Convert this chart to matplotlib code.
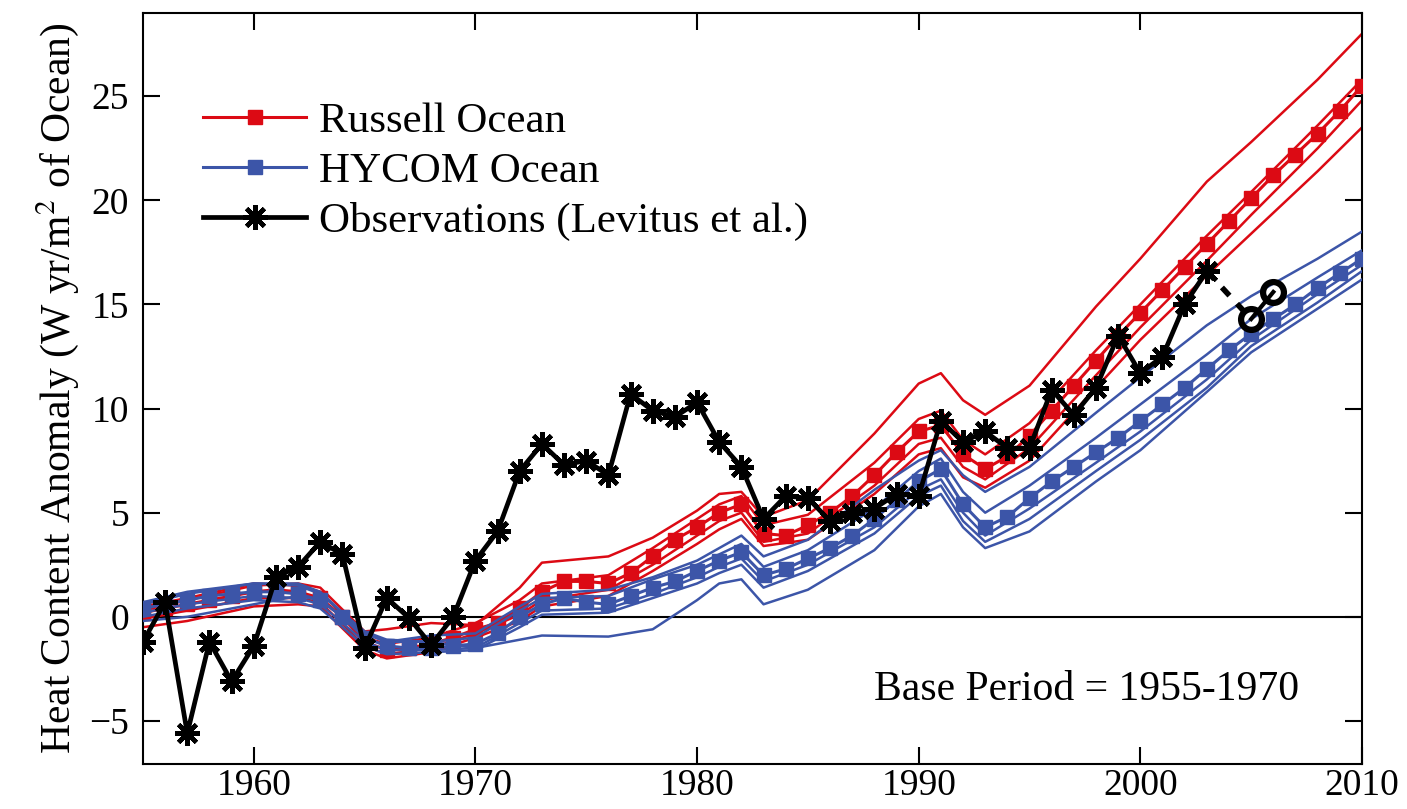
import numpy as np
import matplotlib
matplotlib.use("Agg")
import matplotlib.pyplot as plt

plt.rcParams['font.family'] = ['Liberation Serif', 'DejaVu Serif']
plt.rcParams['mathtext.fontset'] = 'stix'

# annual ensemble means, 1955-2010
years = np.arange(1955, 2011)
russell_mean = [0.2, 0.4, 0.6, 0.8, 1.0, 1.2, 1.3, 1.2, 0.9, 0.0,
                -1.2, -1.6, -1.5, -1.3, -1.0, -0.6, -0.3, 0.4, 1.2, 1.7,
                1.7, 1.6, 2.1, 2.9, 3.7, 4.3, 5.0, 5.4, 4.0, 3.9,
                4.4, 5.0, 5.8, 6.8, 7.9, 8.9, 9.2, 7.8, 7.1, 7.7,
                8.7, 9.9, 11.1, 12.3, 13.5, 14.6, 15.7, 16.8, 17.9, 19.0,
                20.1, 21.2, 22.2, 23.2, 24.3, 25.5]
hycom_mean = [0.4, 0.6, 0.8, 1.0, 1.1, 1.2, 1.2, 1.1, 0.8, 0.0,
              -1.0, -1.4, -1.5, -1.5, -1.4, -1.3, -0.8, 0.0, 0.6, 0.9,
              0.7, 0.6, 1.0, 1.4, 1.7, 2.2, 2.7, 3.1, 2.0, 2.3,
              2.8, 3.3, 3.9, 4.7, 5.6, 6.5, 7.1, 5.4, 4.3, 4.8,
              5.7, 6.5, 7.2, 7.9, 8.6, 9.4, 10.2, 11.0, 11.9, 12.8,
              13.6, 14.3, 15.0, 15.8, 16.5, 17.2]

# individual ensemble members
member_years = [1955, 1957, 1960, 1962, 1963, 1965, 1966, 1968, 1970, 1972,
                1973, 1976, 1978, 1980, 1981, 1982, 1983, 1985, 1988, 1990,
                1991, 1992, 1993, 1995, 1998, 2000, 2003, 2005, 2008, 2010]
russell_members = [
    [0.3, 0.8, 1.5, 1.6, 1.4, -0.7, -0.6, -0.3, -0.4, 1.4, 2.6, 2.9, 3.8, 5.1, 5.9,
     6.0, 4.8, 5.6, 8.8, 11.2, 11.7, 10.4, 9.7, 11.1, 14.9, 17.2, 20.9, 22.8, 25.8, 28.0],
    [0.5, 0.9, 1.6, 1.5, 1.2, -1.0, -1.3, -1.0, -0.3, 0.8, 1.6, 2.0, 3.3, 4.7, 5.4,
     5.8, 4.4, 4.9, 7.4, 9.5, 9.9, 8.5, 7.8, 9.3, 12.8, 15.0, 18.3, 20.4, 23.6, 25.8],
    [-0.1, 0.3, 0.9, 0.9, 0.7, -1.4, -1.8, -1.5, -0.8, 0.1, 0.8, 1.3, 2.5, 3.9, 4.6,
     5.0, 3.6, 4.0, 6.3, 8.3, 8.6, 7.2, 6.6, 8.1, 11.6, 13.9, 17.1, 19.3, 22.5, 24.8],
    [-0.5, -0.2, 0.5, 0.6, 0.5, -1.6, -2.0, -1.7, -1.0, -0.2, 0.5, 1.0, 2.2, 3.5, 4.2,
     4.7, 3.4, 3.7, 5.9, 7.8, 8.1, 6.7, 6.2, 7.5, 11.0, 13.3, 16.4, 18.4, 21.4, 23.5],
]
hycom_members = [
    [0.6, 1.1, 1.6, 1.6, 1.2, -0.8, -1.2, -0.9, -0.8, 0.5, 1.1, 1.3, 1.9, 2.7, 3.3,
     3.9, 2.9, 3.7, 6.1, 7.5, 8.0, 6.8, 6.0, 7.2, 9.8, 11.5, 14.0, 15.4, 17.2, 18.5],
    [0.7, 1.2, 1.6, 1.5, 1.1, -0.7, -1.1, -1.2, -1.0, 0.3, 0.9, 1.0, 1.8, 2.5, 3.0,
     3.5, 2.4, 3.2, 5.2, 7.0, 7.6, 6.0, 5.0, 6.3, 8.6, 10.2, 12.6, 14.3, 16.3, 17.6],
    [0.2, 0.6, 1.0, 0.9, 0.6, -1.2, -1.6, -1.6, -1.5, -0.3, 0.3, 0.4, 1.1, 1.9, 2.4,
     2.8, 1.7, 2.5, 4.3, 6.1, 6.6, 5.0, 3.9, 5.2, 7.4, 8.9, 11.4, 13.3, 15.5, 16.9],
    [0.0, 0.4, 0.8, 0.7, 0.4, -1.4, -1.8, -1.7, -1.6, -0.5, 0.1, 0.2, 0.9, 1.6, 2.1,
     2.5, 1.4, 2.2, 4.0, 5.8, 6.3, 4.6, 3.6, 4.7, 7.0, 8.5, 11.0, 13.0, 15.1, 16.6],
    [-0.2, 0.0, 0.6, 1.0, 0.8, -0.8, -1.2, -1.2, -1.5, -1.1, -0.9, -0.95, -0.6, 0.8, 1.6,
     1.8, 0.6, 1.3, 3.2, 5.3, 5.9, 4.3, 3.3, 4.1, 6.5, 8.0, 10.8, 12.7, 14.8, 16.2],
]

# Levitus et al. observations
obs_years = np.arange(1955, 2004)
obs_values = [-1.2, 0.7, -5.6, -1.2, -3.1, -1.4, 1.9, 2.4, 3.6, 3.0,
              -1.5, 0.9, -0.05, -1.35, 0.0, 2.7, 4.1, 7.0, 8.3, 7.3,
              7.5, 6.8, 10.7, 9.9, 9.6, 10.3, 8.4, 7.2, 4.7, 5.8,
              5.7, 4.6, 5.0, 5.2, 5.9, 5.8, 9.4, 8.4, 8.9, 8.1,
              8.1, 10.9, 9.7, 11.0, 13.5, 11.7, 12.5, 15.0, 16.6]
recent_years = [2005, 2006]
recent_values = [14.3, 15.6]

red = '#dc0a14'
blue = '#3c55a8'

fig = plt.figure(figsize=(14.07, 8.09), dpi=100)
ax = fig.add_axes([0.1016, 0.0556, 0.8664, 0.9284])

ax.axhline(0, color='black', lw=1.5, zorder=1)

for m in russell_members:
    ax.plot(member_years, m, color=red, lw=1.8, zorder=2)
ax.plot(years, russell_mean, color=red, lw=2.2, marker='s', ms=10,
        label='Russell Ocean', zorder=3)

for m in hycom_members:
    ax.plot(member_years, m, color=blue, lw=1.8, zorder=4)
ax.plot(years, hycom_mean, color=blue, lw=2.2, marker='s', ms=10,
        label='HYCOM Ocean', zorder=5)

star = (8, 2, 0)
ax.plot(obs_years, obs_values, color='black', lw=3.4, marker=star, ms=18,
        mew=3.2, label='Observations (Levitus et al.)', zorder=6)
ax.plot([obs_years[-1], recent_years[0]], [obs_values[-1], recent_values[0]],
        color='black', lw=4, ls=(0, (2, 2)), zorder=6)
ax.plot(recent_years, recent_values, color='black', lw=3, marker='o', ms=15,
        mfc='none', mew=4.5, zorder=6)

ax.text(1988.0, -3.5, 'Base Period = 1955-1970', fontsize=30, va='center', ha='left')

ax.set_xlim(1955, 2010)
ax.set_ylim(-7.07, 29.0)
ax.set_xticks(range(1960, 2011, 10))
ax.set_yticks(range(-5, 26, 5))
ax.tick_params(direction='in', length=12, width=1.5, labelsize=27,
               top=True, right=True)
ax.tick_params(axis='y', pad=10)
ax.tick_params(axis='x', pad=3)
for s in ax.spines.values():
    s.set_linewidth(1.5)

ax.set_ylabel('Heat Content Anomaly (W yr/m$^2$ of Ocean)', fontsize=30, labelpad=6)

leg = ax.legend(loc='upper left', bbox_to_anchor=(0.035, 0.905), frameon=False,
                fontsize=31, handlelength=2.4, handletextpad=0.3,
                labelspacing=0.26, borderaxespad=0)

fig.savefig('out.png', dpi=100)
